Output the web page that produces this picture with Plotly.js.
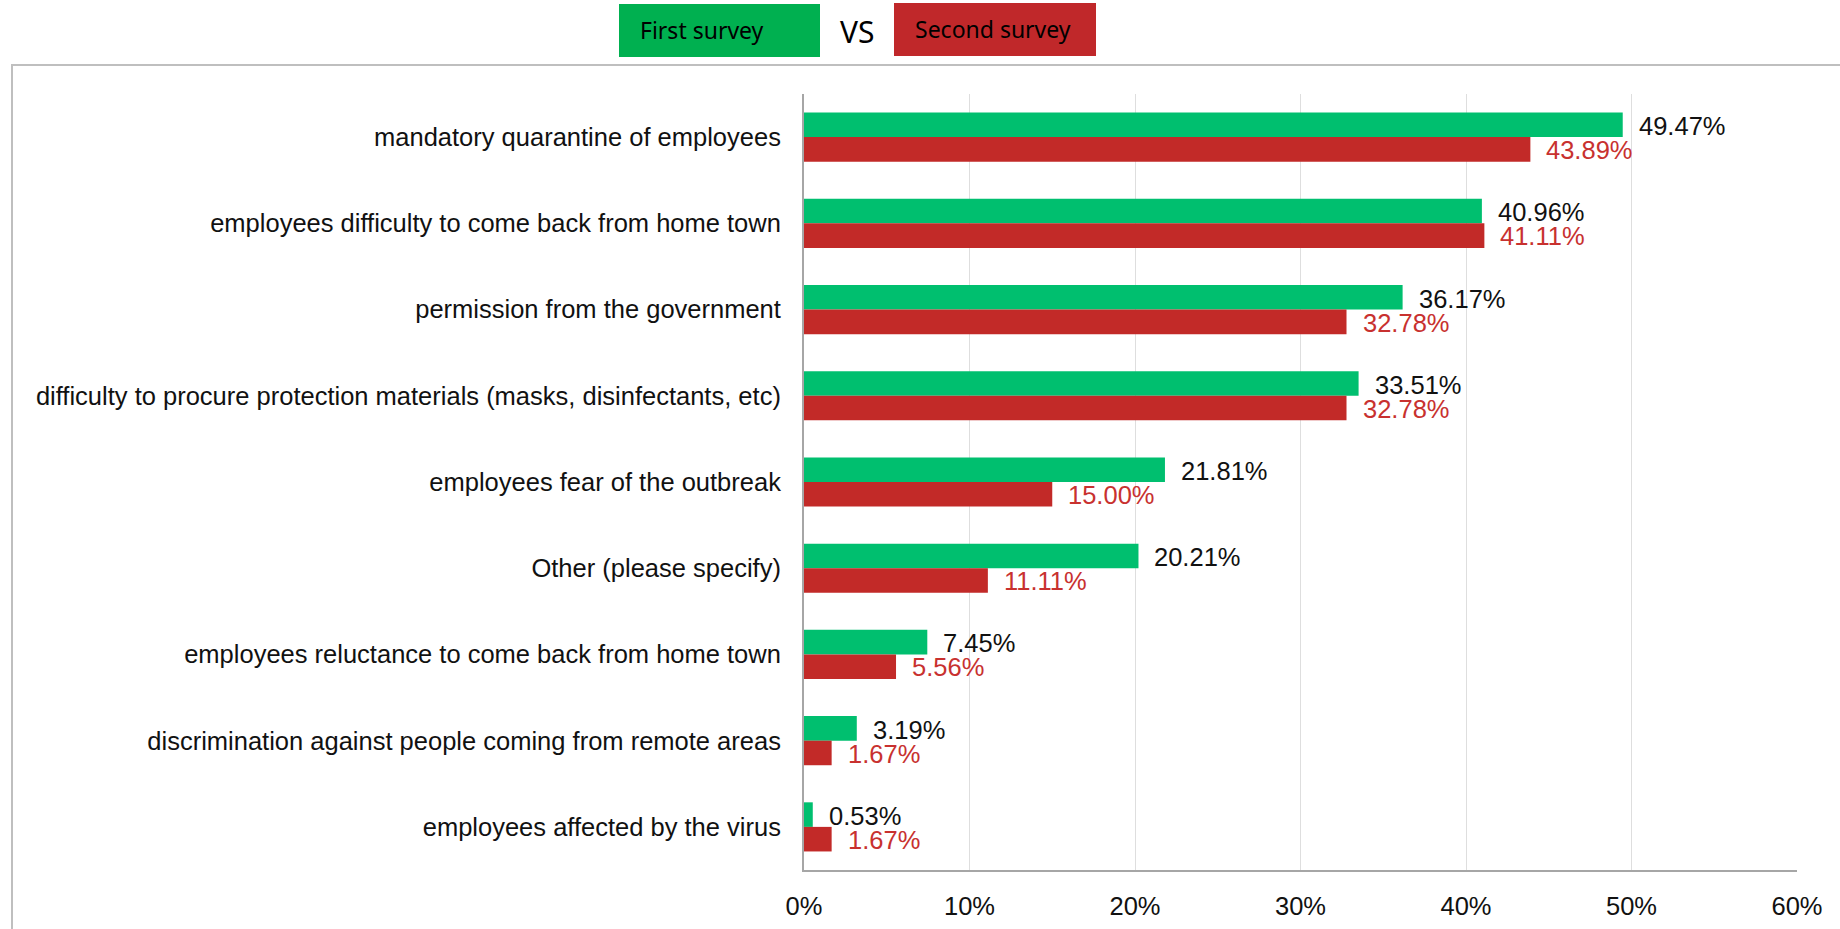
<!DOCTYPE html>
<html>
<head>
<meta charset="utf-8">
<script src="https://cdn.plot.ly/plotly-3.0.1.min.js"></script>
<style>
  html, body { margin: 0; padding: 0; background: #ffffff; }
  #chart { width: 1840px; height: 929px; }
</style>
</head>
<body>
<div id="chart"></div>
<script>
const categories = [
  "mandatory quarantine of employees",
  "employees difficulty to come back from home town",
  "permission from the government",
  "difficulty to procure protection materials (masks, disinfectants, etc)",
  "employees fear of the outbreak",
  "Other (please specify)",
  "employees reluctance to come back from home town",
  "discrimination against people coming from remote areas",
  "employees affected by the virus"
];
const firstSurvey = [49.47, 40.96, 36.17, 33.51, 21.81, 20.21, 7.45, 3.19, 0.53];
const secondSurvey = [43.89, 41.11, 32.78, 32.78, 15.00, 11.11, 5.56, 1.67, 1.67];
const seriesNames = ["First survey", "Second survey"];
const xTickVals = [0, 10, 20, 30, 40, 50, 60];

const GREEN = "#00BF6F";
const RED = "#C22A28";
const RED_TEXT = "#C8312F";
const FONT = "Liberation Sans, Arial, sans-serif";

// plot area in pixels
const L = 804, R = 1797, T = 94, B = 870;
const px = x => (x - L) / (R - L);
const py = y => (B - y) / (B - T);

const traces = [
  {
    type: "bar", orientation: "h", name: seriesNames[0],
    y: categories, x: firstSurvey,
    marker: { color: GREEN, line: { width: 0 } },
    hoverinfo: "x+y"
  },
  {
    type: "bar", orientation: "h", name: seriesNames[1],
    y: categories, x: secondSurvey,
    marker: { color: RED, line: { width: 0 } },
    hoverinfo: "x+y"
  }
];

const annotations = [];
categories.forEach((c, i) => {
  annotations.push({
    x: firstSurvey[i], y: c, xref: "x", yref: "y",
    text: firstSurvey[i].toFixed(2) + "%",
    showarrow: false, xanchor: "left", yanchor: "middle",
    xshift: 14, yshift: 11,
    font: { family: FONT, size: 25.5, color: "#111111" }
  });
  annotations.push({
    x: secondSurvey[i], y: c, xref: "x", yref: "y",
    text: secondSurvey[i].toFixed(2) + "%",
    showarrow: false, xanchor: "left", yanchor: "middle",
    xshift: 14, yshift: -13,
    font: { family: FONT, size: 25.5, color: RED_TEXT }
  });
});

// custom legend
annotations.push({
  xref: "paper", yref: "paper", x: px(638), y: py(30),
  xanchor: "left", yanchor: "middle", showarrow: false,
  text: seriesNames[0],
  font: { family: "Noto Sans, sans-serif", size: 23, color: "#000000" }
});
annotations.push({
  xref: "paper", yref: "paper", x: px(857), y: py(31),
  xanchor: "center", yanchor: "middle", showarrow: false,
  text: "VS",
  font: { family: "Noto Sans, sans-serif", size: 30, color: "#000000" }
});
annotations.push({
  xref: "paper", yref: "paper", x: px(913), y: py(29),
  xanchor: "left", yanchor: "middle", showarrow: false,
  text: seriesNames[1],
  font: { family: "Noto Sans, sans-serif", size: 23, color: "#000000" }
});

const shapes = [
  { type: "rect", xref: "paper", yref: "paper", layer: "below",
    x0: px(12), x1: px(1900), y0: py(1000), y1: py(65),
    line: { color: "#BFBFBF", width: 2 }, fillcolor: "rgba(0,0,0,0)" },
  { type: "rect", xref: "paper", yref: "paper",
    x0: px(619), x1: px(820), y0: py(57), y1: py(4),
    line: { width: 0 }, fillcolor: "#00B050" },
  { type: "rect", xref: "paper", yref: "paper",
    x0: px(894), x1: px(1096), y0: py(56), y1: py(3),
    line: { width: 0 }, fillcolor: "#C0282A" }
];

const layout = {
  width: 1840, height: 929,
  margin: { l: L, r: 1840 - R, t: T, b: 929 - B, pad: 0 },
  paper_bgcolor: "#ffffff", plot_bgcolor: "#ffffff",
  barmode: "group", bargap: 0.43, bargroupgap: 0,
  showlegend: false,
  font: { family: FONT, size: 25.5, color: "#111111" },
  xaxis: {
    range: [0, 60], tickvals: xTickVals,
    ticktext: xTickVals.map(v => v + "%"),
    showgrid: true, gridcolor: "#DEDEDE", gridwidth: 1,
    zeroline: false, showline: true, linecolor: "#A6A6A6", linewidth: 2,
    ticks: "", ticklabelstandoff: 12,
    tickfont: { family: FONT, size: 25.5, color: "#111111" },
    fixedrange: true
  },
  yaxis: {
    type: "category", autorange: "reversed",
    showgrid: false, zeroline: false,
    showline: true, linecolor: "#A6A6A6", linewidth: 2,
    ticks: "", ticklabelstandoff: 16,
    tickfont: { family: FONT, size: 25.5, color: "#111111" },
    automargin: false, fixedrange: true
  },
  annotations: annotations,
  shapes: shapes
};

Plotly.newPlot("chart", traces, layout, { displayModeBar: false, staticPlot: true });
</script>
</body>
</html>
